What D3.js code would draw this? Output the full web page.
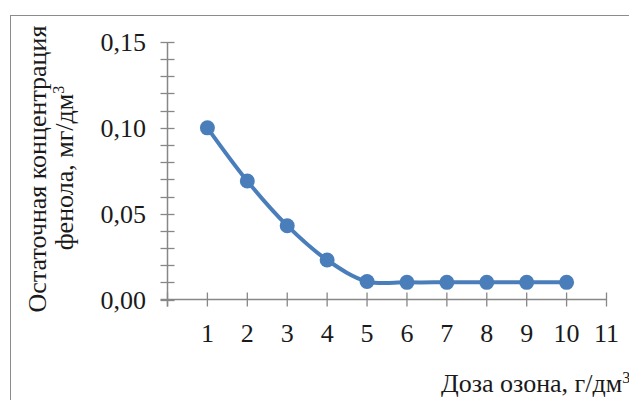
<!DOCTYPE html>
<html><head><meta charset="utf-8">
<script src="https://cdn.jsdelivr.net/npm/d3@7"></script>
<style>body{margin:0;background:#fff}svg{display:block}text{font-family:"Liberation Serif","Times New Roman",serif;fill:#1a1a1a}</style>
</head><body>
<script>
const doses = [1,2,3,4,5,6,7,8,9,10];
const concentration = [0.100,0.069,0.043,0.023,0.0105,0.010,0.010,0.010,0.010,0.010];
const xTicks = [1,2,3,4,5,6,7,8,9,10,11];
const yTicks = [0,0.05,0.10,0.15];
const yTitle = ["Остаточная концентрация","фенола, мг/дм"];
const xTitle = "Доза озона, г/дм";

const W=629,H=400,FS=26;
const svg=d3.select("body").append("svg").attr("width",W).attr("height",H);
svg.append("rect").attr("x",10.5).attr("y",15.5).attr("width",640).attr("height",400)
  .attr("fill","none").attr("stroke","#8c8c8c").attr("stroke-width",1);

const x=d3.scaleLinear().domain([0,11]).range([167.5,606.5]);
const y=d3.scaleLinear().domain([0,0.15]).range([299.5,42]);
const axisColor="#878787";

// y axis
const ya=svg.append("g");
ya.append("line").attr("x1",x(0)).attr("x2",x(0)).attr("y1",y(0)+7).attr("y2",y(0.15)).attr("stroke",axisColor).attr("stroke-width",1.5);
const minor=d3.range(0,0.1501,0.01);
ya.selectAll("line.t").data(minor).join("line").attr("class","t")
  .attr("x1",x(0)-7).attr("x2",x(0)+7).attr("y1",d=>Math.round(y(d))+0.5).attr("y2",d=>Math.round(y(d))+0.5)
  .attr("stroke",axisColor).attr("stroke-width",1.3);
ya.selectAll("text").data(yTicks).join("text")
  .attr("x",146).attr("y",d=>y(d)+9).attr("text-anchor","end").attr("font-size",FS)
  .text(d=>d3.format(".2f")(d).replace(".",","));

// x axis
const xa=svg.append("g");
xa.append("line").attr("x1",x(0)-7).attr("x2",x(11)).attr("y1",y(0)).attr("y2",y(0)).attr("stroke",axisColor).attr("stroke-width",1.5);
xa.selectAll("line.t").data(d3.range(0,12)).join("line").attr("class","t")
  .attr("x1",d=>x(d)).attr("x2",d=>x(d)).attr("y1",y(0)-7).attr("y2",y(0)+7)
  .attr("stroke",axisColor).attr("stroke-width",1.3);
xa.selectAll("text").data(xTicks).join("text")
  .attr("x",d=>x(d)).attr("y",342).attr("text-anchor","middle").attr("font-size",FS).text(d=>d);

// series
const pts=doses.map((d,i)=>[x(d),y(concentration[i])]);
svg.append("path").attr("d",d3.line().curve(d3.curveCatmullRom.alpha(0.5))(pts))
  .attr("fill","none").attr("stroke","#4a7ebb").attr("stroke-width",4);
svg.selectAll("circle").data(pts).join("circle").attr("cx",d=>d[0]).attr("cy",d=>d[1]).attr("r",7.5).attr("fill","#4a7ebb");

// titles
svg.append("text").attr("transform","translate(46,169) rotate(-90)").attr("text-anchor","middle").attr("font-size",FS).text(yTitle[0]);
const t2=svg.append("text").attr("transform","translate(73,168) rotate(-90)").attr("text-anchor","middle").attr("font-size",FS);
t2.append("tspan").text(yTitle[1]);
t2.append("tspan").attr("font-size",16).attr("dy",-9).text("3");
const xt=svg.append("text").attr("x",441).attr("y",392).attr("font-size",FS);
xt.append("tspan").text(xTitle);
xt.append("tspan").attr("font-size",16).attr("dy",-9).text("3");
</script>
</body></html>
